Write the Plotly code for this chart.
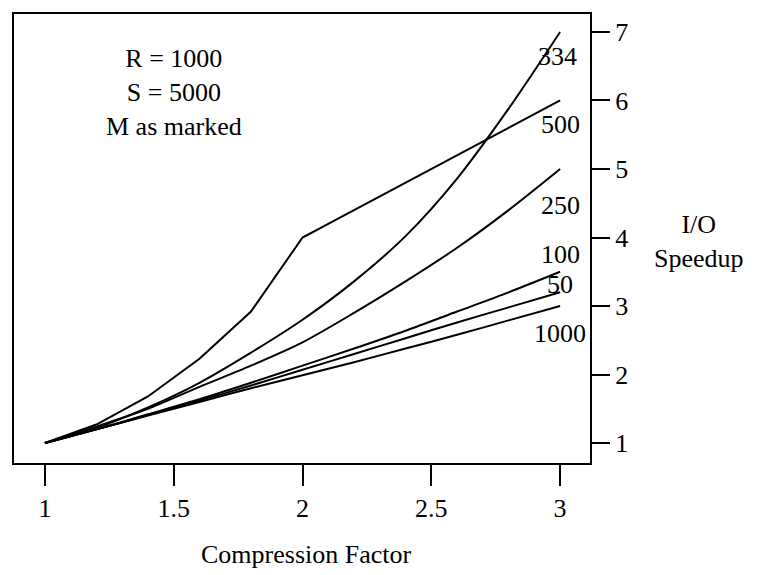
import plotly.graph_objects as go

# Data
compression = [1.0, 1.2, 1.4, 1.6, 1.8, 2.0, 2.2, 2.4, 2.6, 2.8, 3.0]
speedup_m334 = [1.0, 1.22, 1.52, 1.88, 2.32, 2.80, 3.36, 4.02, 4.86, 5.88, 7.0]
speedup_m500 = [1.0, 1.27, 1.68, 2.23, 2.92, 4.00, 4.40, 4.80, 5.20, 5.60, 6.0]
speedup_m250 = [1.0, 1.24, 1.50, 1.82, 2.13, 2.47, 2.90, 3.36, 3.85, 4.40, 5.0]
speedup_m100 = [1.0, 1.20, 1.42, 1.64, 1.88, 2.13, 2.38, 2.64, 2.92, 3.20, 3.5]
speedup_m50 = [1.0, 1.20, 1.41, 1.62, 1.84, 2.07, 2.30, 2.53, 2.76, 2.98, 3.2]
speedup_m1000 = [1.0, 1.20, 1.40, 1.60, 1.80, 1.99, 2.18, 2.38, 2.58, 2.79, 3.0]

series_names = ["334", "500", "250", "100", "50", "1000"]
series_values = [speedup_m334, speedup_m500, speedup_m250, speedup_m100, speedup_m50, speedup_m1000]
series_shapes = ["spline", "linear", "spline", "spline", "spline", "spline"]
# label anchor positions (data coords) for curve labels
label_x = [2.99, 3.0, 3.0, 3.0, 3.0, 3.0]
label_y = [6.64, 5.65, 4.46, 3.75, 3.31, 2.60]

x_ticks = [1, 1.5, 2, 2.5, 3]
x_tick_labels = ["1", "1.5", "2", "2.5", "3"]
y_ticks = [1, 2, 3, 4, 5, 6, 7]

FONT = "Liberation Serif"
FS = 26
fig = go.Figure()
for name, vals, shp in zip(series_names, series_values, series_shapes):
    fig.add_trace(go.Scatter(x=compression, y=vals, mode="lines", name=name,
                             line=dict(color="black", width=2, shape=shp, smoothing=0.8),
                             showlegend=False))

for name, lx, ly in zip(series_names, label_x, label_y):
    fig.add_annotation(x=lx, y=ly, xref="x", yref="y", text=name, showarrow=False,
                       xanchor="center", yanchor="middle",
                       font=dict(family=FONT, size=FS, color="black"))

fig.add_annotation(x=0.2785, y=0.825, xref="paper", yref="paper",
                   text="R = 1000<br>S = 5000<br>M as marked", showarrow=False,
                   xanchor="center", yanchor="middle",
                   font=dict(family=FONT, size=FS, color="black"), align="center")
fig.add_annotation(x=0.507, y=-0.204, xref="paper", yref="paper",
                   text="Compression Factor", showarrow=False,
                   xanchor="center", yanchor="middle",
                   font=dict(family=FONT, size=FS, color="black"))
fig.add_annotation(x=1.19, y=0.494, xref="paper", yref="paper",
                   text="I/O<br>Speedup", showarrow=False,
                   xanchor="center", yanchor="middle",
                   font=dict(family=FONT, size=FS, color="black"), align="center")

fig.update_layout(
    width=778, height=575,
    margin=dict(l=4, r=196, t=4, b=120),
    plot_bgcolor="white", paper_bgcolor="white",
    font=dict(family=FONT, size=FS, color="black"),
    xaxis=dict(range=[0.88, 3.116], tickvals=x_ticks, ticktext=x_tick_labels,
               showgrid=False, zeroline=False, showline=True, linecolor="black",
               linewidth=2, mirror=True, ticks="outside", ticklen=21, tickwidth=2,
               tickcolor="black", tickfont=dict(family=FONT, size=FS)),
    yaxis=dict(range=[0.709, 7.262], tickvals=y_ticks, side="right",
               showgrid=False, zeroline=False, showline=True, linecolor="black",
               linewidth=2, mirror=True, ticks="outside", ticklen=18, tickwidth=2,
               tickcolor="black", tickfont=dict(family=FONT, size=FS)),
)

fig.write_html("out.html")
